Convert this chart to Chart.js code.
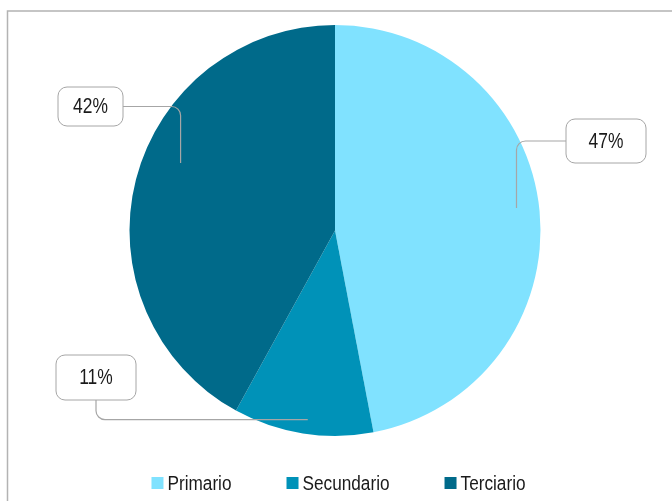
<!DOCTYPE html>
<html>
<head>
<meta charset="utf-8">
<script src="https://cdn.jsdelivr.net/npm/chart.js@4"></script>
<style>
  html, body { margin: 0; padding: 0; background: #fff; }
  canvas { display: block; }
</style>
</head>
<body>
<canvas id="pieChart" width="672" height="501"></canvas>
<script>
// Data
const categories = ['Primario', 'Secundario', 'Terciario'];
const shares = [47, 11, 42];
const sliceColors = ['#80E2FF', '#0092B8', '#006A8A'];

// No condensed face installed, so squeeze Liberation Sans a bit
const FONT = "20px 'Liberation Sans', Arial, sans-serif";
const LABEL_FONT = "21.5px 'Liberation Sans', Arial, sans-serif";
const SQUEEZE = 0.86;
const LABEL_SQUEEZE = 0.81;

// Callout boxes: centre, size, how the leader leaves the box,
// and where it lands inside the slice (angle tweak in degrees, radius fraction)
const callouts = [
    { cx: 606, cy: 141, w: 80, h: 44, leave: 'side', dAngle: -1.7, rFrac: 0.89 },
    { cx: 96, cy: 377.5, w: 80, h: 45, leave: 'bottom', dAngle: -0.8, rFrac: 0.93 },
    { cx: 90.5, cy: 106.5, w: 65, h: 39, leave: 'side', dAngle: 9.2, rFrac: 0.82 }
];

function roundRect(ctx, x, y, w, h, r) {
    ctx.beginPath();
    ctx.moveTo(x + r, y);
    ctx.arcTo(x + w, y, x + w, y + h, r);
    ctx.arcTo(x + w, y + h, x, y + h, r);
    ctx.arcTo(x, y + h, x, y, r);
    ctx.arcTo(x, y, x + w, y, r);
    ctx.closePath();
}

function squeezedText(ctx, text, x, y, align, squeeze) {
    ctx.save();
    ctx.translate(x, y);
    ctx.scale(squeeze, 1);
    ctx.textAlign = align;
    ctx.textBaseline = 'middle';
    ctx.fillText(text, 0, 0);
    ctx.restore();
}

// --- Frame behind the chart ---
const framePlugin = {
    id: 'frame',
    beforeDraw(chart) {
        const ctx = chart.ctx;
        ctx.save();
        ctx.fillStyle = '#fff';
        ctx.fillRect(0, 0, chart.width, chart.height);
        ctx.strokeStyle = '#b3b3b3';
        ctx.lineWidth = 1.5;
        ctx.beginPath();
        ctx.moveTo(7.5, chart.height);
        ctx.lineTo(7.5, 11);
        ctx.lineTo(chart.width, 11);
        ctx.stroke();
        ctx.restore();
    }
};

// --- Percentage callouts with elbow leader lines ---
const calloutPlugin = {
    id: 'callouts',
    afterDatasetsDraw(chart) {
        const ctx = chart.ctx;
        const arcs = chart.getDatasetMeta(0).data;
        const total = shares.reduce((a, b) => a + b, 0);
        ctx.save();
        arcs.forEach((arc, i) => {
            const c = callouts[i];
            const mid = (arc.startAngle + arc.endAngle) / 2 + c.dAngle * Math.PI / 180;
            const ax = arc.x + Math.cos(mid) * arc.outerRadius * c.rFrac;
            const ay = arc.y + Math.sin(mid) * arc.outerRadius * c.rFrac;

            // leader
            ctx.strokeStyle = '#a6a6a6';
            ctx.lineWidth = 1.2;
            ctx.beginPath();
            if (c.leave === 'side') {
                const sx = ax > c.cx ? c.cx + c.w / 2 : c.cx - c.w / 2;
                ctx.moveTo(sx, c.cy);
                ctx.arcTo(ax, c.cy, ax, ay, 9);
            } else {
                ctx.moveTo(c.cx, c.cy + c.h / 2);
                ctx.arcTo(c.cx, ay, ax, ay, 9);
            }
            ctx.lineTo(ax, ay);
            ctx.stroke();

            // box
            roundRect(ctx, c.cx - c.w / 2, c.cy - c.h / 2, c.w, c.h, 9);
            ctx.fillStyle = '#fff';
            ctx.fill();
            ctx.strokeStyle = '#a6a6a6';
            ctx.lineWidth = 1;
            ctx.stroke();

            // text
            const pct = Math.round(shares[i] / total * 100) + '%';
            ctx.fillStyle = '#1a1a1a';
            ctx.font = LABEL_FONT;
            squeezedText(ctx, pct, c.cx, c.cy + 1, 'center', LABEL_SQUEEZE);
        });
        ctx.restore();
    }
};

// --- Legend along the bottom ---
const legendPlugin = {
    id: 'bottomLegend',
    afterDraw(chart) {
        const ctx = chart.ctx;
        ctx.save();
        ctx.font = FONT;
        const widths = categories.map(t => ctx.measureText(t).width * SQUEEZE);
        const boxSize = 12, textGap = 4, itemGap = 55;
        const total = widths.reduce((s, w) => s + boxSize + textGap + w, 0) + itemGap * (categories.length - 1);
        let x = 338.5 - total / 2;
        const y = 483;
        categories.forEach((label, i) => {
            ctx.fillStyle = sliceColors[i];
            ctx.fillRect(x, y - boxSize / 2, boxSize, boxSize);
            ctx.fillStyle = '#1a1a1a';
            squeezedText(ctx, label, x + boxSize + textGap, y + 1, 'left', SQUEEZE);
            x += boxSize + textGap + widths[i] + itemGap;
        });
        ctx.restore();
    }
};

const pieChart = new Chart(document.getElementById('pieChart').getContext('2d'), {
    type: 'pie',
    data: {
        labels: categories,
        datasets: [{
            data: shares,
            backgroundColor: sliceColors,
            borderWidth: 0
        }]
    },
    options: {
        responsive: false,
        animation: false,
        devicePixelRatio: 1,
        layout: { padding: { top: 25, bottom: 65, left: 0, right: 2 } },
        plugins: {
            legend: { display: false },
            tooltip: { enabled: false }
        }
    },
    plugins: [framePlugin, calloutPlugin, legendPlugin]
});
</script>
</body>
</html>
